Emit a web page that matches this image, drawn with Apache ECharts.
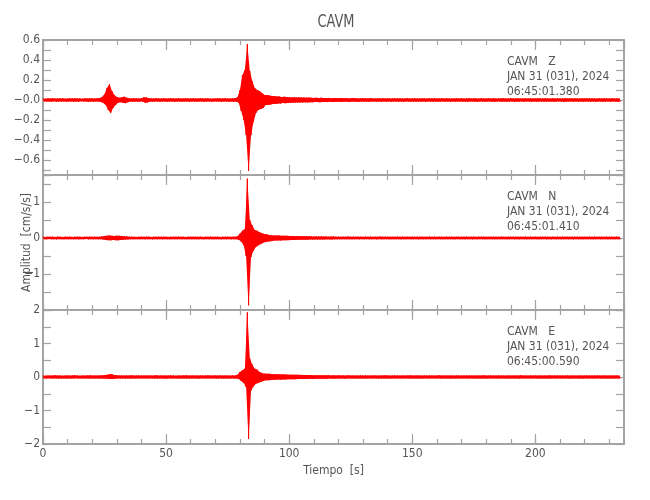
<!DOCTYPE html>
<html><head><meta charset="utf-8">
<script src="https://cdn.jsdelivr.net/npm/echarts@6/dist/echarts.min.js"></script>
<style>html,body{margin:0;padding:0;background:#fff}#c{width:650px;height:500px}</style>
</head><body><div id="c"></div>
<script>
// ---- data (per 1-second bin: positive peak, negative peak) ----
const titleText = 'CAVM';
const stationLabels = ['CAVM   Z', 'CAVM   N', 'CAVM   E'];
const dateLabel = 'JAN 31 (031), 2024';
const startTimes = ['06:45:01.380', '06:45:01.410', '06:45:00.590'];
const xTickLabels = ['0', '50', '100', '150', '200'];

const zUp = [.015,.013,.017,.015,.018,.014,.016,.015,.017,.013,
 .015,.017,.014,.018,.015,.016,.013,.017,.015,.018,
 .016,.015,.017,.019,.030,.060,.120,.160,.090,.050,
 .030,.022,.028,.033,.022,.017,.015,.018,.016,.015,
 .017,.028,.025,.017,.015,.016,.018,.015,.014,.017,
 .016,.015,.018,.015,.014,.017,.015,.016,.018,.015,
 .015,.017,.014,.016,.018,.015,.015,.017,.013,.016,
 .015,.018,.016,.015,.017,.014,.016,.015,.018,.028,
 .100,.250,.300,.560,.290,.190,.120,.100,.090,.070,
 .050,.050,.045,.040,.040,.035,.035,.030,.032,.030,
 .028,.026,.028,.025,.027,.024,.025,.023,.024,.022,
 .021,.022,.019,.022,.020,.019,.021,.018,.020,.019,
 .018,.020,.017,.019,.016,.018,.019,.017,.016,.018,
 .017,.018,.015,.019,.016,.015,.017,.016,.018,.015,
 .017,.015,.016,.018,.015,.017,.014,.016,.018,.015,
 .016,.017,.015,.014,.018,.016,.015,.017,.016,.018,
 .015,.016,.018,.015,.017,.014,.016,.015,.018,.016,
 .017,.015,.016,.018,.015,.017,.016,.014,.018,.015,
 .016,.017,.015,.018,.016,.015,.017,.018,.015,.016,
 .018,.015,.016,.017,.014,.016,.018,.015,.017,.016,
 .015,.018,.016,.015,.017,.016,.014,.018,.015,.017,
 .016,.015,.018,.016,.017,.015,.018,.016,.015,.017,
 .016,.018,.015,.017,.016,.014,.017,.015,.018,.016,
 .015,.017,.016,.015,.016];
const zDn = [-.014,-.016,-.015,-.018,-.013,-.017,-.015,-.016,-.014,-.017,
 -.016,-.014,-.018,-.015,-.017,-.013,-.016,-.015,-.018,-.015,
 -.017,-.016,-.015,-.019,-.030,-.050,-.100,-.130,-.080,-.050,
 -.028,-.022,-.028,-.032,-.022,-.016,-.017,-.015,-.018,-.016,
 -.015,-.027,-.024,-.016,-.017,-.015,-.014,-.018,-.016,-.015,
 -.017,-.014,-.016,-.018,-.015,-.016,-.017,-.014,-.015,-.018,
 -.016,-.015,-.017,-.014,-.016,-.018,-.015,-.016,-.017,-.015,
 -.014,-.016,-.017,-.015,-.016,-.018,-.015,-.017,-.016,-.028,
 -.110,-.200,-.350,-.710,-.350,-.220,-.130,-.100,-.090,-.080,
 -.050,-.050,-.045,-.040,-.040,-.035,-.035,-.030,-.032,-.030,
 -.027,-.028,-.025,-.026,-.024,-.025,-.023,-.024,-.022,-.023,
 -.020,-.021,-.022,-.019,-.020,-.021,-.018,-.019,-.020,-.018,
 -.017,-.019,-.016,-.018,-.019,-.016,-.017,-.018,-.017,-.015,
 -.017,-.015,-.018,-.016,-.015,-.018,-.016,-.017,-.014,-.018,
 -.016,-.017,-.015,-.014,-.018,-.016,-.017,-.015,-.016,-.018,
 -.015,-.018,-.016,-.017,-.015,-.018,-.014,-.016,-.017,-.015,
 -.018,-.016,-.015,-.017,-.016,-.018,-.015,-.018,-.016,-.015,
 -.017,-.016,-.018,-.015,-.014,-.017,-.018,-.016,-.015,-.017,
 -.016,-.015,-.017,-.018,-.016,-.014,-.017,-.015,-.018,-.016,
 -.015,-.017,-.018,-.016,-.015,-.017,-.014,-.016,-.018,-.015,
 -.017,-.016,-.015,-.018,-.016,-.017,-.015,-.018,-.016,-.014,
 -.016,-.018,-.017,-.015,-.016,-.018,-.015,-.017,-.016,-.018,
 -.015,-.016,-.017,-.014,-.018,-.016,-.015,-.017,-.016,-.015,
 -.017,-.015,-.016,-.018,-.015];

const nUp = [.034,.030,.037,.032,.035,.031,.038,.033,.030,.036,
 .032,.035,.030,.037,.033,.034,.031,.036,.032,.038,
 .033,.035,.032,.037,.045,.055,.065,.070,.060,.055,
 .065,.060,.055,.048,.042,.038,.033,.035,.031,.034,
 .036,.032,.034,.038,.030,.035,.033,.037,.032,.034,
 .035,.031,.036,.033,.034,.038,.032,.035,.030,.034,
 .033,.036,.032,.034,.037,.031,.035,.033,.036,.032,
 .034,.037,.031,.035,.033,.036,.032,.034,.038,.050,
 .120,.200,.250,1.650,.500,.350,.220,.200,.160,.130,
 .110,.100,.080,.070,.070,.068,.070,.065,.060,.062,
 .058,.055,.056,.052,.053,.049,.050,.046,.048,.045,
 .043,.044,.041,.043,.040,.041,.038,.040,.041,.037,
 .038,.035,.038,.036,.039,.034,.037,.035,.038,.036,
 .034,.038,.035,.037,.033,.036,.035,.039,.034,.036,
 .035,.037,.033,.036,.038,.034,.036,.033,.037,.035,
 .038,.033,.036,.034,.037,.032,.035,.038,.034,.036,
 .033,.037,.035,.032,.038,.034,.036,.033,.037,.035,
 .034,.036,.038,.033,.035,.037,.032,.036,.034,.038,
 .035,.033,.037,.034,.036,.032,.038,.035,.033,.037,
 .034,.036,.033,.038,.035,.034,.037,.032,.036,.035,
 .037,.033,.036,.034,.038,.035,.032,.037,.034,.036,
 .033,.038,.035,.034,.037,.033,.036,.035,.032,.037,
 .035,.034,.036,.033,.038,.034,.035,.037,.033,.036,
 .034,.035,.033,.036,.034];
const nDn = [-.033,-.037,-.031,-.036,-.034,-.038,-.032,-.035,-.038,-.033,
 -.036,-.032,-.038,-.034,-.037,-.033,-.035,-.031,-.038,-.034,
 -.036,-.033,-.037,-.035,-.042,-.055,-.060,-.065,-.055,-.060,
 -.065,-.055,-.050,-.045,-.040,-.036,-.037,-.033,-.036,-.034,
 -.032,-.037,-.034,-.035,-.038,-.033,-.036,-.032,-.037,-.034,
 -.035,-.038,-.033,-.036,-.034,-.032,-.037,-.035,-.038,-.033,
 -.036,-.033,-.037,-.034,-.035,-.038,-.032,-.036,-.034,-.037,
 -.033,-.035,-.038,-.034,-.036,-.033,-.037,-.034,-.035,-.050,
 -.100,-.200,-.500,-1.870,-.530,-.350,-.250,-.200,-.170,-.130,
 -.110,-.100,-.090,-.075,-.070,-.070,-.068,-.065,-.062,-.060,
 -.057,-.055,-.054,-.052,-.051,-.049,-.048,-.046,-.045,-.044,
 -.043,-.041,-.042,-.039,-.041,-.038,-.040,-.039,-.037,-.038,
 -.036,-.038,-.034,-.037,-.035,-.038,-.035,-.033,-.037,-.034,
 -.036,-.032,-.037,-.035,-.033,-.038,-.034,-.036,-.035,-.032,
 -.037,-.034,-.036,-.033,-.035,-.038,-.034,-.036,-.032,-.037,
 -.035,-.033,-.038,-.034,-.036,-.035,-.032,-.037,-.034,-.036,
 -.033,-.035,-.038,-.034,-.036,-.033,-.037,-.035,-.032,-.036,
 -.034,-.037,-.033,-.035,-.038,-.034,-.036,-.032,-.035,-.037,
 -.034,-.036,-.033,-.038,-.035,-.034,-.036,-.033,-.037,-.035,
 -.032,-.036,-.034,-.037,-.033,-.035,-.038,-.034,-.036,-.033,
 -.035,-.037,-.034,-.032,-.036,-.035,-.038,-.033,-.036,-.034,
 -.037,-.033,-.035,-.036,-.034,-.038,-.032,-.035,-.037,-.034,
 -.036,-.033,-.035,-.037,-.034,-.032,-.036,-.035,-.033,-.037,
 -.034,-.036,-.035,-.033,-.035];

const eUp = [.045,.040,.048,.042,.046,.050,.043,.047,.041,.045,
 .048,.042,.045,.050,.044,.040,.047,.043,.046,.049,
 .043,.046,.042,.048,.050,.055,.065,.085,.080,.060,
 .052,.045,.048,.042,.046,.044,.049,.043,.045,.047,
 .042,.046,.044,.048,.043,.045,.050,.042,.047,.044,
 .046,.043,.048,.045,.041,.047,.044,.046,.049,.043,
 .045,.048,.042,.046,.044,.047,.043,.049,.045,.042,
 .046,.044,.048,.043,.047,.045,.042,.046,.048,.065,
 .150,.200,.250,1.930,.550,.370,.250,.220,.150,.120,
 .100,.100,.095,.085,.080,.080,.078,.080,.075,.072,
 .070,.068,.068,.064,.064,.061,.060,.058,.058,.055,
 .053,.055,.051,.053,.049,.051,.053,.048,.050,.048,
 .050,.046,.048,.045,.049,.045,.047,.042,.046,.048,
 .044,.047,.045,.042,.048,.046,.043,.047,.045,.049,
 .043,.046,.044,.048,.045,.042,.047,.044,.046,.049,
 .045,.043,.048,.046,.044,.047,.042,.045,.048,.044,
 .046,.049,.043,.045,.047,.044,.046,.042,.048,.045,
 .043,.047,.045,.048,.044,.046,.042,.047,.045,.049,
 .044,.046,.048,.043,.045,.047,.044,.046,.042,.048,
 .045,.043,.047,.045,.049,.044,.046,.043,.047,.045,
 .048,.044,.046,.042,.047,.045,.049,.043,.046,.044,
 .047,.045,.043,.048,.044,.046,.045,.042,.047,.045,
 .044,.048,.045,.043,.046,.047,.044,.045,.048,.043,
 .046,.044,.047,.045,.043];
const eDn = [-.043,-.047,-.041,-.046,-.044,-.042,-.048,-.045,-.043,-.047,
 -.042,-.046,-.044,-.040,-.047,-.045,-.043,-.048,-.044,-.042,
 -.046,-.043,-.047,-.045,-.048,-.050,-.055,-.060,-.058,-.050,
 -.046,-.047,-.043,-.046,-.044,-.048,-.042,-.045,-.047,-.043,
 -.046,-.044,-.048,-.042,-.045,-.047,-.043,-.046,-.044,-.049,
 -.043,-.045,-.047,-.042,-.046,-.044,-.048,-.043,-.045,-.047,
 -.044,-.042,-.046,-.048,-.043,-.045,-.047,-.044,-.042,-.046,
 -.048,-.043,-.045,-.047,-.044,-.046,-.042,-.045,-.047,-.060,
 -.120,-.180,-.300,-1.850,-.400,-.280,-.200,-.180,-.150,-.120,
 -.100,-.100,-.090,-.085,-.080,-.078,-.080,-.075,-.072,-.070,
 -.067,-.068,-.064,-.063,-.060,-.061,-.057,-.058,-.055,-.056,
 -.052,-.050,-.053,-.049,-.051,-.052,-.048,-.049,-.051,-.047,
 -.048,-.045,-.049,-.046,-.044,-.048,-.045,-.047,-.044,-.047,
 -.045,-.048,-.043,-.046,-.044,-.042,-.047,-.045,-.048,-.043,
 -.046,-.044,-.047,-.043,-.045,-.048,-.042,-.046,-.044,-.047,
 -.043,-.045,-.047,-.044,-.046,-.042,-.048,-.045,-.043,-.046,
 -.044,-.047,-.045,-.042,-.046,-.048,-.043,-.045,-.047,-.044,
 -.046,-.043,-.048,-.045,-.044,-.047,-.042,-.046,-.045,-.043,
 -.047,-.045,-.043,-.046,-.048,-.044,-.046,-.043,-.047,-.045,
 -.042,-.046,-.044,-.048,-.045,-.043,-.047,-.044,-.046,-.042,
 -.045,-.048,-.043,-.046,-.044,-.047,-.045,-.042,-.046,-.044,
 -.048,-.043,-.046,-.045,-.047,-.044,-.042,-.046,-.045,-.048,
 -.044,-.046,-.043,-.047,-.045,-.043,-.046,-.044,-.048,-.045,
 -.043,-.047,-.045,-.044,-.046];

// ---- chart ----
const FONT = "'DejaVu Sans Condensed','Liberation Sans Narrow',sans-serif";
const AX = '#a3a3a3';
const TXT = '#555555';
const RED = '#ff0000';
const MINUS = '\u2212';

const upArrays = [zUp, nUp, eUp];
const dnArrays = [zDn, nDn, eDn];

function trace(up, dn) {
  const d = [];
  for (let i = 0; i < up.length; i++) {
    d.push([i, up[i]]);
    d.push([i + 0.5, dn[i]]);
  }
  return d;
}
function fmtNum(v, dec) {
  const s = Math.abs(v).toFixed(dec);
  return (v < 0 ? MINUS : '') + s;
}
const yFormatters = [
  v => { const r = Math.round(v * 10); if (Math.abs(v * 10 - r) > 1e-6 || r % 2 !== 0) return ''; if (r === 0) return MINUS + '0.0'; return fmtNum(r / 10, 1); },
  v => { const r = Math.round(v); if (Math.abs(v - r) > 1e-6 || r === -2) return ''; return fmtNum(r, 0); },
  v => { const r = Math.round(v); if (Math.abs(v - r) > 1e-6) return ''; return fmtNum(r, 0); }
];
const yRanges = [[-0.75, 0.6, 13], [-2, 1.75, 8], [-2, 2, 8]];
const gridTops = [40, 175, 310];
const gridHeights = [135, 135, 134];

const grids = [], xAxes = [], yAxes = [], series = [], graphics = [];
const lineStyle = { color: AX, width: 2 };
const tickStyle = { color: AX, width: 1.2 };

for (let g = 0; g < 3; g++) {
  grids.push({ left: 43, right: 26, top: gridTops[g], height: gridHeights[g], containLabel: false });
  const base = { type: 'value', gridIndex: g, min: 0, max: 236, splitLine: { show: false },
    axisLine: { show: true, onZero: false, lineStyle } };
  xAxes.push(Object.assign({}, base, { position: 'bottom', interval: 10,
    axisTick: { show: true, inside: true, length: 5, lineStyle: tickStyle }, axisLabel: { show: false } }));
  xAxes.push(Object.assign({}, base, { position: 'bottom', interval: 50,
    axisTick: { show: true, inside: true, length: 10, lineStyle: tickStyle },
    axisLabel: { show: g === 2, margin: 4, color: TXT, fontFamily: FONT, fontSize: 12, showMaxLabel: false,
      formatter: v => { const i = Math.round(v / 50); return (Math.abs(v - i * 50) < 1e-6 && i < xTickLabels.length) ? xTickLabels[i] : ''; } },
    name: g === 2 ? 'Tiempo  [s]' : '', nameLocation: 'middle', nameGap: 21, nameMoveOverlap: false,
    nameTextStyle: { color: TXT, fontFamily: FONT, fontSize: 12 } }));
  xAxes.push(Object.assign({}, base, { position: 'top', interval: 10,
    axisTick: { show: true, inside: true, length: 5, lineStyle: tickStyle }, axisLabel: { show: false } }));
  xAxes.push(Object.assign({}, base, { position: 'top', interval: 50,
    axisTick: { show: true, inside: true, length: 10, lineStyle: tickStyle }, axisLabel: { show: false } }));

  const [mn, mx, sn] = yRanges[g];
  const ybase = { type: 'value', gridIndex: g, min: mn, max: mx, splitNumber: sn, splitLine: { show: false },
    axisLine: { show: true, onZero: false, lineStyle },
    axisTick: { show: true, inside: true, length: 8, lineStyle: tickStyle } };
  yAxes.push(Object.assign({}, ybase, { position: 'left',
    axisLabel: { show: true, margin: 3, color: TXT, fontFamily: FONT, fontSize: 12, formatter: yFormatters[g],
      showMinLabel: true, showMaxLabel: true },
    name: g === 1 ? 'Amplitud  [cm/s/s]' : '', nameLocation: 'middle', nameGap: 10, nameMoveOverlap: false,
    nameTextStyle: { color: TXT, fontFamily: FONT, fontSize: 12 } }));
  yAxes.push(Object.assign({}, ybase, { position: 'right', axisLabel: { show: false } }));

  const up = upArrays[g], dn = dnArrays[g];
  // filled envelope between positive and negative peaks
  series.push({ type: 'custom', xAxisIndex: 4 * g + 1, yAxisIndex: 2 * g, data: [[0, 0]], clip: true, z: 1,
    renderItem: (params, api) => {
      const pts = [];
      for (let i = 0; i < up.length; i++) pts.push(api.coord([i, up[i]]));
      for (let i = dn.length - 1; i >= 0; i--) pts.push(api.coord([i + 0.5, dn[i]]));
      return { type: 'polygon', shape: { points: pts }, style: { fill: RED, stroke: null } };
    } });
  // oscillation trace
  series.push({ type: 'line', xAxisIndex: 4 * g + 1, yAxisIndex: 2 * g, data: trace(up, dn),
    symbol: 'none', showSymbol: false, clip: true, sampling: null,
    lineStyle: { color: RED, width: 1 }, itemStyle: { color: RED }, z: 2 });

  graphics.push({ type: 'text', x: 507, y: gridTops[g] + 14,
    style: { text: stationLabels[g] + '\n' + dateLabel + '\n' + startTimes[g],
      fill: TXT, font: '12px ' + FONT, lineHeight: 15 } });
}
graphics.push({ type: 'text', x: 336, y: 22, scaleX: 0.8,
  style: { text: titleText, fill: TXT, font: '18px ' + FONT, align: 'center', verticalAlign: 'middle' } });

const chart = echarts.init(document.getElementById('c'), null, { renderer: 'canvas' });
chart.setOption({
  animation: false,
  backgroundColor: '#ffffff',
  grid: grids, xAxis: xAxes, yAxis: yAxes, series, graphic: graphics
});
</script></body></html>
